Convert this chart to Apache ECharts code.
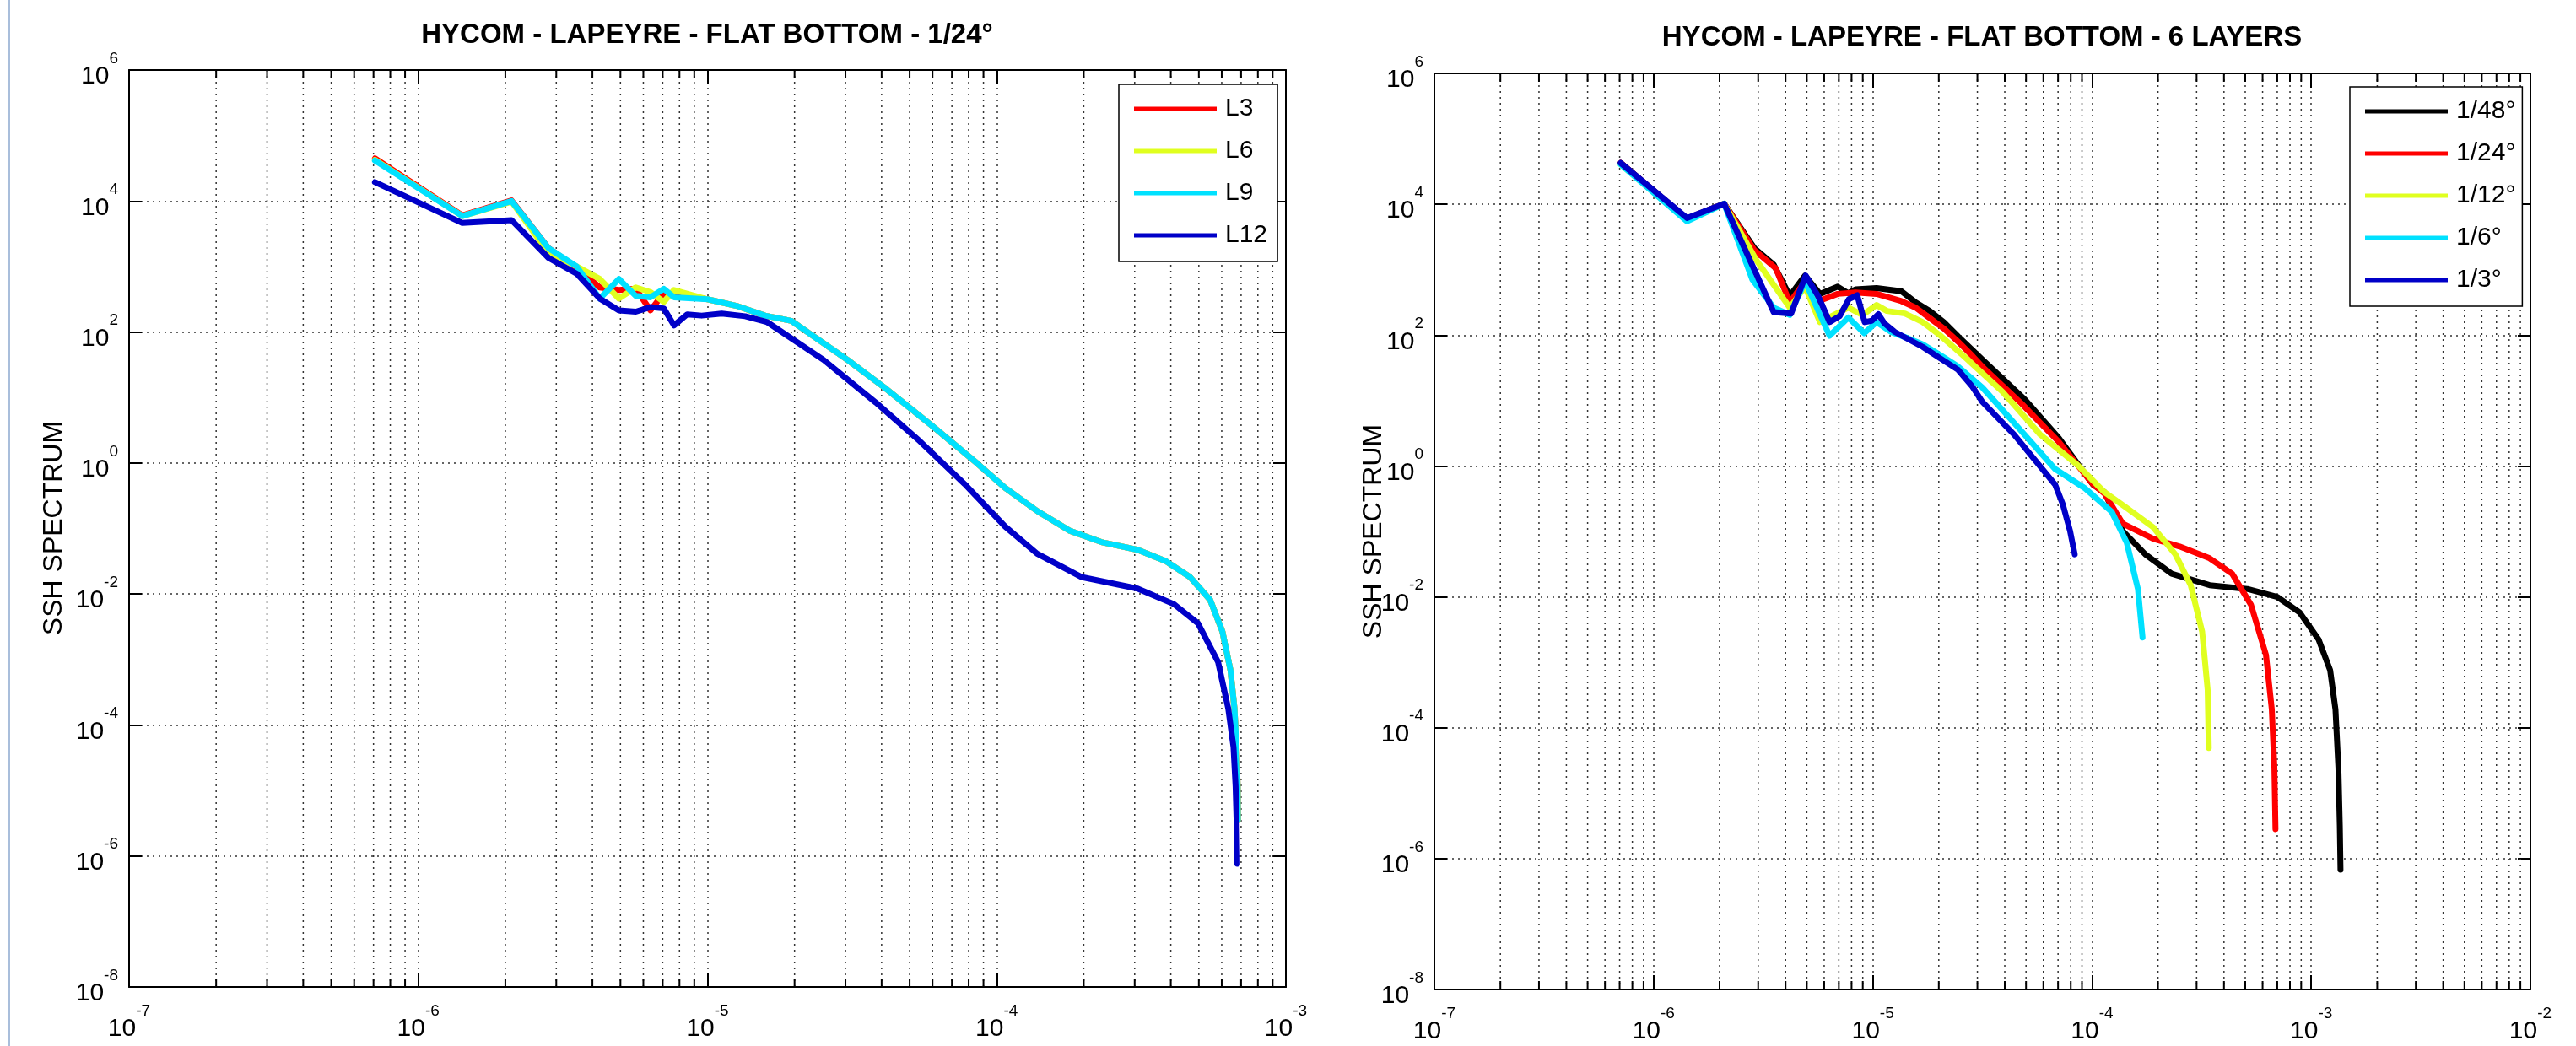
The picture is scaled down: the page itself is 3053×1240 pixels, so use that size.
<!DOCTYPE html>
<html><head><meta charset="utf-8">
<script src="https://cdn.jsdelivr.net/npm/echarts@6/dist/echarts.min.js"></script>
<style>html,body{margin:0;padding:0;background:#fff}#c{width:3053px;height:1240px}</style>
</head><body><div id="c"></div><script>
// ---------- LEFT PANEL: HYCOM - LAPEYRE - FLAT BOTTOM - 1/24° ----------
const leftNames = ['L3', 'L6', 'L9', 'L12'];
// first harmonics (wavenumber) for the three upper curves
const kHeadL = [7.08e-7, 1.42e-6, 2.10e-6, 2.82e-6, 3.53e-6, 4.24e-6, 4.94e-6, 5.65e-6, 6.35e-6, 7.06e-6, 7.66e-6];
const sL3Head = [4.47e4, 6.03e3, 1.02e4, 1.91e3, 955, 479, 437, 457, 214, 389, 380];
const sL6Head = [4.27e4, 5.89e3, 9.77e3, 1.62e3, 1.00e3, 646, 324, 479, 407, 288, 437];
const sL9Head = [4.15e4, 5.89e3, 1.00e4, 1.91e3, 1.00e3, 324, 646, 355, 339, 457, 339];
// common tail of L3 / L6 / L9 (they overlap)
const kTailL = [1.00e-5, 1.26e-5, 1.58e-5, 1.95e-5, 3.05e-5, 4.07e-5, 5.98e-5, 8.51e-5, 1.07e-4, 1.38e-4, 1.78e-4, 2.30e-4, 3.07e-4, 3.85e-4, 4.66e-4, 5.47e-4, 6.03e-4, 6.43e-4, 6.64e-4, 6.75e-4, 6.81e-4, 6.82e-4];
const sTailL = [316, 251, 178, 148, 37.5, 14.5, 3.70, 1.01, 0.417, 0.185, 0.0933, 0.0621, 0.0473, 0.0316, 0.0182, 0.00813, 0.00269, 6.92e-4, 1.78e-4, 4.57e-5, 1.17e-5, 3.5e-6];
// L12
const kL12 = [7.08e-7, 1.42e-6, 2.10e-6, 2.82e-6, 3.53e-6, 4.24e-6, 4.94e-6, 5.65e-6, 6.35e-6, 7.06e-6, 7.66e-6, 8.51e-6, 9.55e-6, 1.12e-5, 1.35e-5, 1.61e-5, 2.52e-5, 3.82e-5, 5.43e-5, 7.74e-5, 1.07e-4, 1.38e-4, 1.96e-4, 3.07e-4, 4.10e-4, 4.97e-4, 5.83e-4, 6.32e-4, 6.59e-4, 6.70e-4, 6.76e-4, 6.79e-4];
const sL12 = [1.94e4, 4.62e3, 5.11e3, 1.35e3, 776, 324, 214, 204, 240, 229, 126, 186, 178, 191, 174, 141, 37.5, 8.38, 2.14, 0.479, 0.107, 0.0412, 0.0182, 0.0121, 0.00701, 0.00355, 9.12e-4, 1.78e-4, 4.57e-5, 1.17e-5, 2.95e-6, 7.59e-7];

// ---------- RIGHT PANEL: HYCOM - LAPEYRE - FLAT BOTTOM - 6 LAYERS ----------
const rightNames = ['1/48°', '1/24°', '1/12°', '1/6°', '1/3°'];
const k48 = [7.08e-7, 1.42e-6, 2.10e-6, 2.88e-6, 3.53e-6, 4.18e-6, 4.91e-6, 5.74e-6, 6.92e-6, 7.73e-6, 8.34e-6, 1.04e-5, 1.35e-5, 1.57e-5, 1.82e-5, 2.11e-5, 2.45e-5, 2.85e-5, 3.20e-5, 4.94e-5, 7.06e-5, 1.01e-4, 1.14e-4, 1.38e-4, 1.75e-4, 2.31e-4, 3.44e-4, 5.11e-4, 7.00e-4, 8.87e-4, 1.08e-3, 1.22e-3, 1.29e-3, 1.33e-3, 1.35e-3, 1.36e-3];
const s48 = [4.27e4, 6.03e3, 1.02e4, 2.14e3, 1.20e3, 398, 813, 427, 550, 437, 501, 525, 468, 316, 234, 158, 95.5, 58.9, 40.7, 10.4, 2.67, 0.52, 0.398, 0.102, 0.0447, 0.0226, 0.0151, 0.0132, 0.0100, 0.00575, 0.00224, 7.59e-4, 1.91e-4, 2.51e-5, 3.24e-6, 6.76e-7];
const k24 = [7.08e-7, 1.42e-6, 2.10e-6, 2.88e-6, 3.61e-6, 4.18e-6, 4.91e-6, 5.65e-6, 6.92e-6, 8.34e-6, 1.04e-5, 1.35e-5, 1.57e-5, 1.82e-5, 2.11e-5, 2.45e-5, 2.85e-5, 3.20e-5, 4.75e-5, 7.06e-5, 1.01e-4, 1.14e-4, 1.38e-4, 1.90e-4, 2.51e-4, 3.44e-4, 4.36e-4, 5.31e-4, 6.22e-4, 6.61e-4, 6.79e-4, 6.87e-4];
const s24 = [4.27e4, 6.03e3, 1.02e4, 2.00e3, 1.05e3, 316, 661, 331, 427, 447, 427, 331, 263, 182, 126, 79.4, 47.9, 31.6, 9.12, 2.33, 0.525, 0.380, 0.132, 0.0776, 0.0589, 0.0389, 0.0226, 0.00759, 0.00129, 1.91e-4, 2.51e-5, 2.82e-6];
const k12 = [7.08e-7, 1.42e-6, 2.10e-6, 2.94e-6, 4.18e-6, 4.91e-6, 5.74e-6, 7.73e-6, 8.97e-6, 1.04e-5, 1.16e-5, 1.40e-5, 1.69e-5, 2.04e-5, 2.62e-5, 3.90e-5, 5.79e-5, 8.61e-5, 1.14e-4, 1.44e-4, 1.90e-4, 2.40e-4, 2.82e-4, 3.18e-4, 3.37e-4, 3.41e-4];
const s12 = [4.07e4, 5.62e3, 1.02e4, 1.41e3, 263, 550, 158, 263, 204, 288, 234, 214, 158, 97.7, 46.8, 13.7, 3.05, 1.03, 0.398, 0.229, 0.116, 0.0447, 0.0151, 0.00295, 3.80e-4, 4.90e-5];
const k6 = [7.08e-7, 1.42e-6, 2.10e-6, 2.82e-6, 3.53e-6, 4.18e-6, 4.91e-6, 6.35e-6, 7.73e-6, 9.14e-6, 1.04e-5, 1.21e-5, 1.40e-5, 1.69e-5, 2.04e-5, 2.45e-5, 3.16e-5, 4.40e-5, 6.79e-5, 9.31e-5, 1.23e-4, 1.44e-4, 1.62e-4, 1.70e-4];
const s6 = [4.07e4, 5.50e3, 1.02e4, 708, 263, 204, 661, 97.7, 186, 107, 158, 112, 93.3, 72.4, 49.0, 33.1, 15.8, 4.60, 0.898, 0.454, 0.200, 0.0676, 0.0132, 0.0024];
const k3 = [7.08e-7, 1.42e-6, 2.10e-6, 3.53e-6, 4.24e-6, 4.94e-6, 5.65e-6, 6.35e-6, 7.06e-6, 7.78e-6, 8.49e-6, 9.18e-6, 9.89e-6, 1.06e-5, 1.13e-5, 1.26e-5, 1.69e-5, 2.04e-5, 2.45e-5, 2.85e-5, 3.16e-5, 4.40e-5, 6.79e-5, 7.35e-5, 7.94e-5, 8.34e-5];
const s3 = [4.27e4, 6.17e3, 1.02e4, 225, 214, 813, 389, 158, 195, 355, 407, 158, 166, 209, 151, 112, 66.1, 43.7, 29.5, 16.2, 9.55, 3.05, 0.520, 0.263, 0.102, 0.0447];

// ---------- axis ticks ----------
const leftDecades = [1e-7, 1e-6, 1e-5, 1e-4];
const rightDecades = [1e-7, 1e-6, 1e-5, 1e-4, 1e-3];
const minorMult = [2, 3, 4, 5, 6, 7, 8, 9];
const titles = ['HYCOM - LAPEYRE - FLAT BOTTOM - 1/24°', 'HYCOM - LAPEYRE - FLAT BOTTOM - 6 LAYERS'];
const yName = 'SSH SPECTRUM';

const FONT = '"Liberation Sans", Arial, Helvetica, sans-serif';
const COL = {red: '#ff0000', yellow: '#e0ff1f', cyan: '#00e1ff', blue: '#0000c8', black: '#000000'};

const pairs = (k, s) => k.map((v, i) => [v, s[i]]);
const minorList = decs => { const o = []; decs.forEach(d => minorMult.forEach(m => o.push([d * m, 1]))); return o; };

const chart = echarts.init(document.getElementById('c'), null, {renderer: 'canvas', width: 3053, height: 1240});

const rich = {
  b: {fontSize: 30, lineHeight: 46, verticalAlign: 'bottom', fontFamily: FONT, color: '#000'},
  e: {fontSize: 19, lineHeight: 19, verticalAlign: 'top', fontFamily: FONT, color: '#000'}
};
const powFmt = v => '{b|10}{e|' + Math.round(Math.log10(v)) + '}';

const gridLine = {show: true, lineStyle: {color: '#333', width: 1.5, type: [2, 5]}};
const axLine = {show: true, lineStyle: {color: '#000', width: 2}};

function xAxes(gi, max) {
  return [
    {gridIndex: gi, type: 'log', logBase: 10, min: 1e-7, max: max, interval: 1, position: 'bottom',
      axisLine: axLine, axisTick: {inside: true, length: 17, lineStyle: {width: 2, color: '#000'}},
      splitLine: gridLine, minorTick: {show: false},
      axisLabel: {formatter: powFmt, rich: rich, margin: 19, fontFamily: FONT, showMinLabel: true, showMaxLabel: true}},
    {gridIndex: gi, type: 'log', logBase: 10, min: 1e-7, max: max, interval: 1, position: 'top',
      axisLine: axLine, axisTick: {inside: true, length: 17, lineStyle: {width: 2, color: '#000'}},
      splitLine: {show: false}, axisLabel: {show: false}}
  ];
}
function yAxes(gi) {
  return [
    {gridIndex: gi, type: 'log', logBase: 10, min: 1e-8, max: 1e6, interval: 2, position: 'left',
      axisLine: axLine, axisTick: {inside: true, length: 15, lineStyle: {width: 2, color: '#000'}},
      splitLine: gridLine,
      axisLabel: {formatter: powFmt, rich: rich, margin: 13, fontFamily: FONT, showMinLabel: true, showMaxLabel: true}},
    {gridIndex: gi, type: 'log', logBase: 10, min: 1e-8, max: 1e6, interval: 2, position: 'right',
      axisLine: axLine, axisTick: {inside: true, length: 15, lineStyle: {width: 2, color: '#000'}},
      splitLine: {show: false}, axisLabel: {show: false}}
  ];
}

function minorRender(params, api) {
  const cs = params.coordSys;
  const px = api.coord([api.value(0), 1])[0];
  const top = cs.y, bot = cs.y + cs.height;
  return {type: 'group', children: [
    {type: 'line', shape: {x1: px, y1: top, x2: px, y2: bot}, style: {stroke: '#333', lineWidth: 1.5, lineDash: [2, 5]}},
    {type: 'line', shape: {x1: px, y1: bot, x2: px, y2: bot - 10}, style: {stroke: '#000', lineWidth: 2}},
    {type: 'line', shape: {x1: px, y1: top, x2: px, y2: top + 10}, style: {stroke: '#000', lineWidth: 2}}
  ]};
}

function line(name, data, color, xi, yi) {
  return {name: name, type: 'line', xAxisIndex: xi, yAxisIndex: yi, data: data, showSymbol: false, symbol: 'none',
    lineStyle: {width: 7, color: color, join: 'round', cap: 'round'}, itemStyle: {color: color}, z: 3, silent: true};
}

const legendText = {fontSize: 30, lineHeight: 30, fontFamily: FONT, color: '#000', padding: [0, 0, 0, 5]};

const option = {
  animation: false,
  backgroundColor: '#ffffff',
  grid: [
    {left: 153, top: 83, width: 1371, height: 1087},
    {left: 1700, top: 87, width: 1299, height: 1086}
  ],
  xAxis: [...xAxes(0, 1e-3), ...xAxes(1, 1e-2)],
  yAxis: [...yAxes(0), ...yAxes(1)],
  legend: [
    {data: leftNames, orient: 'vertical', left: 1326, top: 100, itemWidth: 98, itemHeight: 5, icon: 'rect', itemGap: 20,
      padding: [14, 12, 16, 18], backgroundColor: '#fff', borderColor: '#000', borderWidth: 1.5, selectedMode: false, textStyle: legendText},
    {data: rightNames, orient: 'vertical', left: 2785, top: 103, itemWidth: 98, itemHeight: 5, icon: 'rect', itemGap: 20,
      padding: [14, 8, 16, 18], backgroundColor: '#fff', borderColor: '#000', borderWidth: 1.5, selectedMode: false, textStyle: legendText}
  ],
  series: [
    {type: 'custom', name: 'minorL', xAxisIndex: 0, yAxisIndex: 0, data: minorList(leftDecades), renderItem: minorRender, silent: true, z: 1},
    {type: 'custom', name: 'minorR', xAxisIndex: 2, yAxisIndex: 2, data: minorList(rightDecades), renderItem: minorRender, silent: true, z: 1},
    line('L3', pairs(kHeadL.concat(kTailL), sL3Head.concat(sTailL)), COL.red, 0, 0),
    line('L6', pairs(kHeadL.concat(kTailL), sL6Head.concat(sTailL)), COL.yellow, 0, 0),
    line('L9', pairs(kHeadL.concat(kTailL), sL9Head.concat(sTailL)), COL.cyan, 0, 0),
    line('L12', pairs(kL12, sL12), COL.blue, 0, 0),
    line('1/48°', pairs(k48, s48), COL.black, 2, 2),
    line('1/24°', pairs(k24, s24), COL.red, 2, 2),
    line('1/12°', pairs(k12, s12), COL.yellow, 2, 2),
    line('1/6°', pairs(k6, s6), COL.cyan, 2, 2),
    line('1/3°', pairs(k3, s3), COL.blue, 2, 2)
  ],
  graphic: [
    {type: 'rect', left: 10, top: 0, shape: {width: 2, height: 1240}, style: {fill: '#a9bedb'}, silent: true},
    {type: 'text', x: 838, y: 42, style: {text: titles[0], font: 'bold 33px ' + FONT, fill: '#000', align: 'center', verticalAlign: 'middle'}},
    {type: 'text', x: 2349, y: 45, style: {text: titles[1], font: 'bold 33px ' + FONT, fill: '#000', align: 'center', verticalAlign: 'middle'}},
    {type: 'text', x: 64, y: 626, rotation: Math.PI / 2, style: {text: yName, font: '32px ' + FONT, fill: '#000', align: 'center', verticalAlign: 'middle'}},
    {type: 'text', x: 1628, y: 630, rotation: Math.PI / 2, style: {text: yName, font: '32px ' + FONT, fill: '#000', align: 'center', verticalAlign: 'middle'}}
  ]
};
chart.setOption(option);
</script></body></html>
